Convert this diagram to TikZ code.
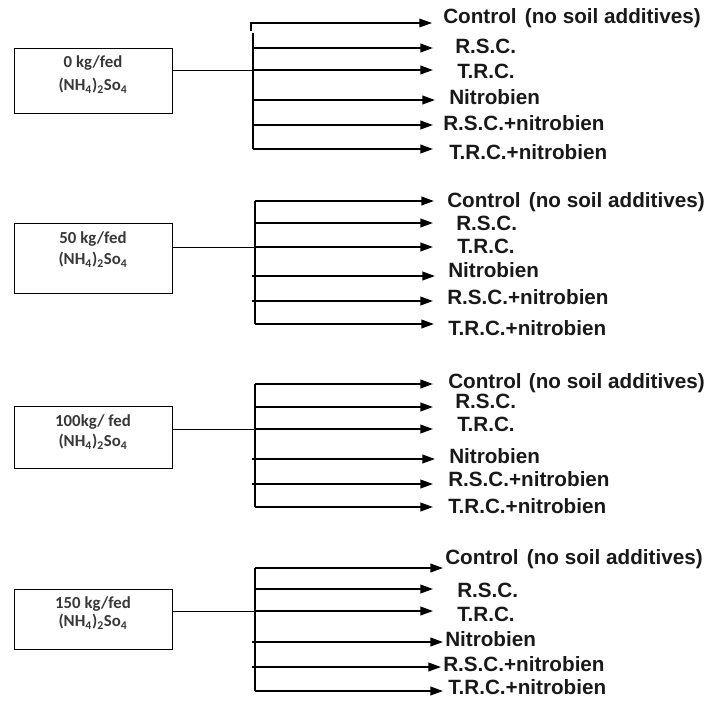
\documentclass[tikz,border=0pt]{standalone}
\usepackage{fontspec}
\setmainfont{Liberation Sans}
\newfontfamily\boxfont{Carlito}
\usetikzlibrary{arrows.meta}
\newcommand\myarrow[7]{%
  \coordinate (#1s) at (#2,#3);
  \coordinate (#1t) at (#4,#3);
  \node[lab] (#1) at (#5,#6+7.4) {#7};
  \draw[arr] (#1s) -- (#1t);
}
\begin{document}
\begin{tikzpicture}[x=0.75pt,y=-0.75pt,
  lab/.style={anchor=base west,inner sep=0pt,font=\fontsize{15.5}{17}\selectfont\bfseries,text=black!90},
  tip/.style={-{Triangle[length=9.5pt,width=6.5pt]}},
  arr/.style={line width=1.3pt,tip},
  trunk/.style={line width=1pt},
  conn/.style={line width=0.75pt},
  dosebox/.style={draw,line width=1pt,anchor=north west,inner sep=0pt},
  dosetext/.style={font=\boxfont\bfseries\fontsize{12.6}{13}\selectfont,text=black!78,inner sep=0pt}]
\useasboundingbox[fill=white] (0,0) rectangle (707,700);
% ---------- group 1 ----------
\node[dosebox,minimum width=158*0.75pt,minimum height=65*0.75pt] (b1) at (14,48) {};
\node[dosetext] (b1l1) at (93,63) {0 kg/fed};
\node[dosetext] (b1l2) at (93,86) {(NH\textsubscript{4})\textsubscript{2}So\textsubscript{4}};
\coordinate (g1h) at (251,31);
\coordinate (g1a1s) at (251,23);
\coordinate (g1a1t) at (432,23);
\node[lab] (g1a1) at (443,16+7.4) {Control\hspace{0.4em}(no soil additives)};
\draw[line width=0.8pt,tip] (g1h) -- (g1a1s) -- (g1a1t);
\myarrow{g1a2}{253}{48}{433}{455}{46.5}{R.S.C.}
\myarrow{g1a3}{253}{70}{433}{457}{71}{T.R.C.}
\myarrow{g1a4}{253}{100}{435}{449}{97.5}{Nitrobien}
\myarrow{g1a5}{253}{125}{433}{443}{123}{R.S.C.+nitrobien}
\myarrow{g1a6}{253}{149}{433}{449}{152.5}{T.R.C.+nitrobien}
\coordinate (g1top) at (253,33);
\draw[trunk] (g1top) -- (g1a6s);
\draw[conn] (b1.east |- g1a3s) -- (g1a3s);
% ---------- group 2 ----------
\node[dosebox,minimum width=158*0.75pt,minimum height=70*0.75pt] (b2) at (14,223) {};
\node[dosetext] (b2l1) at (93,239) {50 kg/fed};
\node[dosetext] (b2l2) at (93,260) {(NH\textsubscript{4})\textsubscript{2}So\textsubscript{4}};
\myarrow{g2a1}{255}{201}{434}{447}{200}{Control\hspace{0.4em}(no soil additives)}
\myarrow{g2a2}{255}{223}{433}{456}{223}{R.S.C.}
\myarrow{g2a3}{255}{247}{433}{457}{246.5}{T.R.C.}
\myarrow{g2a4}{252}{276}{435}{448}{270.5}{Nitrobien}
\myarrow{g2a5}{252}{301}{433}{447}{297.5}{R.S.C.+nitrobien}
\myarrow{g2a6}{255}{324}{434}{448}{328}{T.R.C.+nitrobien}
\draw[trunk] (g2a1s) -- (g2a6s);
\draw[conn] (b2.east |- g2a3s) -- (g2a3s);
% ---------- group 3 ----------
\node[dosebox,minimum width=158*0.75pt,minimum height=62*0.75pt] (b3) at (14,406) {};
\node[dosetext] (b3l1) at (93,422) {100kg/ fed};
\node[dosetext] (b3l2) at (93,442) {(NH\textsubscript{4})\textsubscript{2}So\textsubscript{4}};
\myarrow{g3a1}{255}{384}{433}{448}{381}{Control\hspace{0.35em}(no soil additives)}
\myarrow{g3a2}{255}{407}{433}{455}{401}{R.S.C.}
\myarrow{g3a3}{255}{429}{433}{457}{424}{T.R.C.}
\myarrow{g3a4}{252}{459}{435}{449}{456}{Nitrobien}
\myarrow{g3a5}{252}{484}{433}{448}{479}{R.S.C.+nitrobien}
\myarrow{g3a6}{255}{507}{433}{448}{506}{T.R.C.+nitrobien}
\draw[trunk] (g3a1s) -- (g3a6s);
\draw[conn] (b3.east |- g3a3s) -- (g3a3s);
% ---------- group 4 ----------
\node[dosebox,minimum width=158*0.75pt,minimum height=60*0.75pt] (b4) at (14,589) {};
\node[dosetext] (b4l1) at (93,604) {150 kg/fed};
\node[dosetext] (b4l2) at (93,622) {(NH\textsubscript{4})\textsubscript{2}So\textsubscript{4}};
\myarrow{g4a1}{255}{568}{443}{445}{557}{Control\hspace{0.4em}(no soil additives)}
\myarrow{g4a2}{255}{589}{433}{457}{590}{R.S.C.}
\myarrow{g4a3}{255}{611}{433}{457}{614}{T.R.C.}
\myarrow{g4a4}{252}{642}{443}{445}{639.5}{Nitrobien}
\myarrow{g4a5}{252}{667}{441}{443}{664.5}{R.S.C.+nitrobien}
\myarrow{g4a6}{255}{691}{443}{448}{687.5}{T.R.C.+nitrobien}
\draw[trunk] (g4a1s) -- (g4a6s);
\draw[conn] (b4.east |- g4a3s) -- (g4a3s);
\end{tikzpicture}
\end{document}
